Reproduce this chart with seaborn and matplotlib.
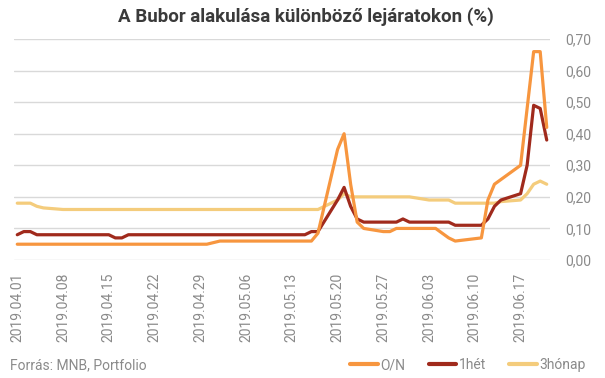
import matplotlib
matplotlib.use('Agg')
import matplotlib.pyplot as plt
from matplotlib.ticker import FuncFormatter
from matplotlib.lines import Line2D
import seaborn as sns
import pandas as pd

# trading days (Hungarian holidays removed)
holidays = ['2019-04-19', '2019-04-22', '2019-05-01', '2019-06-10']
dates = pd.bdate_range('2019-04-01', '2019-06-21').drop(pd.to_datetime(holidays))
tick_dates = pd.date_range('2019-04-01', '2019-06-17', freq='7D')

on_vals = [
    0.05, 0.05, 0.05, 0.05, 0.05, 0.05, 0.05, 0.05, 0.05, 0.05,
    0.05, 0.05, 0.05, 0.05, 0.05, 0.05, 0.05, 0.05, 0.05, 0.05,
    0.06, 0.06, 0.06, 0.06, 0.06, 0.06, 0.06, 0.06, 0.06, 0.06, 0.06,
    0.085, 0.35, 0.40, 0.24, 0.12, 0.10, 0.09, 0.09, 0.10, 0.10, 0.10,
    0.10, 0.10, 0.085, 0.07, 0.06, 0.07, 0.19, 0.24, 0.255,
    0.30, 0.48, 0.66, 0.66, 0.42,
]
het_vals = [
    0.08, 0.09, 0.09, 0.08, 0.08, 0.08, 0.08, 0.08, 0.08, 0.08,
    0.08, 0.07, 0.07, 0.08, 0.08, 0.08, 0.08, 0.08, 0.08, 0.08,
    0.08, 0.08, 0.08, 0.08, 0.08, 0.08, 0.08, 0.08, 0.08, 0.08, 0.09,
    0.09, 0.19, 0.23, 0.17, 0.13, 0.12, 0.12, 0.12, 0.12, 0.13, 0.12,
    0.12, 0.12, 0.12, 0.12, 0.11, 0.11, 0.13, 0.17, 0.19,
    0.21, 0.30, 0.49, 0.48, 0.38,
]
ho_vals = [
    0.18, 0.18, 0.18, 0.17, 0.165, 0.16, 0.16, 0.16, 0.16, 0.16,
    0.16, 0.16, 0.16, 0.16, 0.16, 0.16, 0.16, 0.16, 0.16, 0.16,
    0.16, 0.16, 0.16, 0.16, 0.16, 0.16, 0.16, 0.16, 0.16, 0.16, 0.16,
    0.16, 0.19, 0.21, 0.20, 0.20, 0.20, 0.20, 0.20, 0.20, 0.20, 0.20,
    0.19, 0.19, 0.19, 0.19, 0.18, 0.18, 0.18, 0.18, 0.185,
    0.19, 0.21, 0.24, 0.25, 0.24,
]

names = ['O/N', '1hét', '3hónap']
colors = {'O/N': '#F7963F', '1hét': '#A02A1C', '3hónap': '#F4CC7C'}
values = {'O/N': on_vals, '1hét': het_vals, '3hónap': ho_vals}

sns.set_style('white')
plt.rcParams['font.family'] = ['Roboto', 'DejaVu Sans']

fig = plt.figure(figsize=(6.05, 3.78), dpi=100)
ax = fig.add_axes([14 / 605, 1 - 260 / 378, 536 / 605, 221 / 378])

# draw yellow first so the other two sit on top
for name in ['3hónap', '1hét', 'O/N']:
    sns.lineplot(x=dates, y=values[name], ax=ax, color=colors[name],
                 linewidth=2.3, legend=False)

ax.set_ylim(0, 0.70)
ax.set_yticks([0, 0.1, 0.2, 0.3, 0.4, 0.5, 0.6, 0.7])
ax.yaxis.set_major_formatter(FuncFormatter(lambda v, p: f'{v:.2f}'.replace('.', ',')))
ax.yaxis.tick_right()
ax.set_xlim(pd.Timestamp('2019-04-01') - pd.Timedelta(hours=12),
            pd.Timestamp('2019-06-21') + pd.Timedelta(hours=12))
ax.set_xticks(tick_dates)
ax.set_xticklabels([d.strftime('%Y.%m.%d') for d in tick_dates], rotation=90)
ax.tick_params(axis='x', length=0, pad=9, labelsize=10, labelcolor='#8A8A8A')
ax.tick_params(axis='y', length=0, pad=11, labelsize=10, labelcolor='#8A8A8A')
ax.grid(axis='y', color='#D9D9D9', linewidth=1)
ax.grid(axis='x', visible=False)
ax.set_axisbelow(True)
for s in ax.spines.values():
    s.set_visible(False)
ax.set_xlabel('')
ax.set_ylabel('')

fig.text(306 / 605, 1 - 17 / 378, 'A Bubor alakulása különböző lejáratokon (%)',
         ha='center', va='center', fontsize=13.5, fontweight='bold', color='#3A3A3A')
fig.text(10 / 605, 1 - 365 / 378, 'Forrás: MNB, Portfolio',
         ha='left', va='center', fontsize=10, color='#8A8A8A')

handles = [Line2D([0], [0], color=colors[n], linewidth=3) for n in names]
fig.legend(handles, names, loc='center right', bbox_to_anchor=(598 / 605, 1 - 365 / 378),
           ncol=3, frameon=False, fontsize=10, labelcolor='#8A8A8A',
           handlelength=2.0, handletextpad=0.15, columnspacing=1.7)

fig.savefig('out.png', dpi=100)
